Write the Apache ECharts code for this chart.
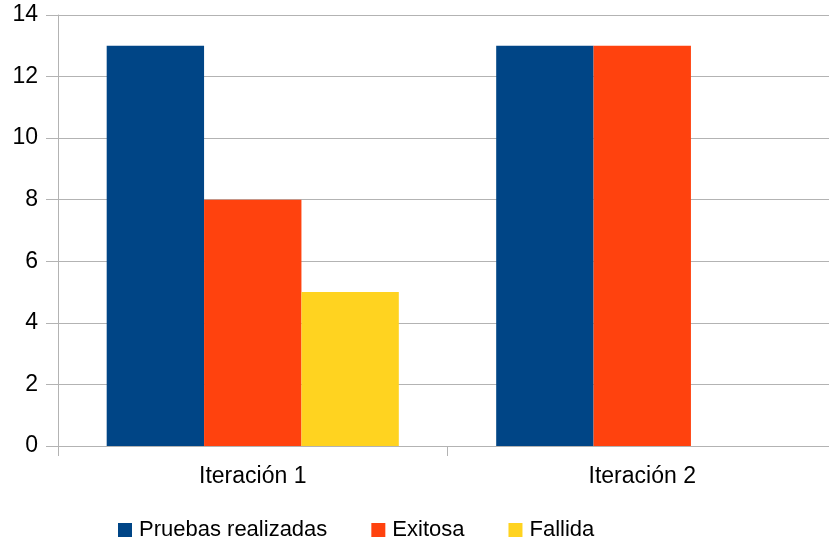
<!DOCTYPE html>
<html>
<head>
<meta charset="utf-8">
<script src="https://cdn.jsdelivr.net/npm/echarts@6/dist/echarts.min.js"></script>
<style>
  html, body { margin: 0; padding: 0; background: #ffffff; }
  #chart { width: 829px; height: 542px; }
</style>
</head>
<body>
<div id="chart"></div>
<script>
// Test results per iteration
const categories = ['Iteración 1', 'Iteración 2'];
const seriesNames = ['Pruebas realizadas', 'Exitosa', 'Fallida'];
const realizadas = [13, 13];
const exitosas = [8, 13];
const fallidas = [5, 0];
const yTicks = { min: 0, max: 14, interval: 2 };

const colors = ['#004586', '#ff420e', '#ffd320'];
const values = [realizadas, exitosas, fallidas];
const font = 'Liberation Sans, Arial, sans-serif';
const gridGrey = '#b3b3b3';

const chart = echarts.init(document.getElementById('chart'), null, { renderer: 'canvas' });

chart.setOption({
  animation: false,
  backgroundColor: '#ffffff',
  textStyle: { fontFamily: font },
  grid: {
    left: 58,
    top: 15,
    width: 779,
    height: 431,
    containLabel: false,
    outerBoundsMode: 'none'
  },
  legend: {
    left: 118,
    top: 519,
    padding: 0,
    itemWidth: 14,
    itemHeight: 14,
    itemGap: 44,
    icon: 'rect',
    textStyle: { fontSize: 22, color: '#000', fontFamily: font, padding: [0, 0, 0, 2] },
    data: seriesNames
  },
  xAxis: {
    type: 'category',
    data: categories,
    boundaryGap: true,
    axisLine: { show: true, lineStyle: { color: gridGrey, width: 1 } },
    axisTick: { show: true, length: 10, lineStyle: { color: gridGrey, width: 1 } },
    axisLabel: { fontSize: 23, color: '#000', margin: 19, fontFamily: font },
    splitLine: { show: false }
  },
  yAxis: {
    type: 'value',
    min: yTicks.min,
    max: yTicks.max,
    interval: yTicks.interval,
    axisLine: { show: true, lineStyle: { color: gridGrey, width: 1 } },
    axisTick: { show: true, length: 12, lineStyle: { color: gridGrey, width: 1 } },
    axisLabel: { fontSize: 23, color: '#000', margin: 20, fontFamily: font },
    splitLine: { show: true, lineStyle: { color: gridGrey, width: 1 } }
  },
  series: seriesNames.map((name, i) => ({
    name: name,
    type: 'bar',
    data: values[i],
    barGap: '0%',
    barCategoryGap: '25%',
    itemStyle: { color: colors[i] }
  }))
});
</script>
</body>
</html>
